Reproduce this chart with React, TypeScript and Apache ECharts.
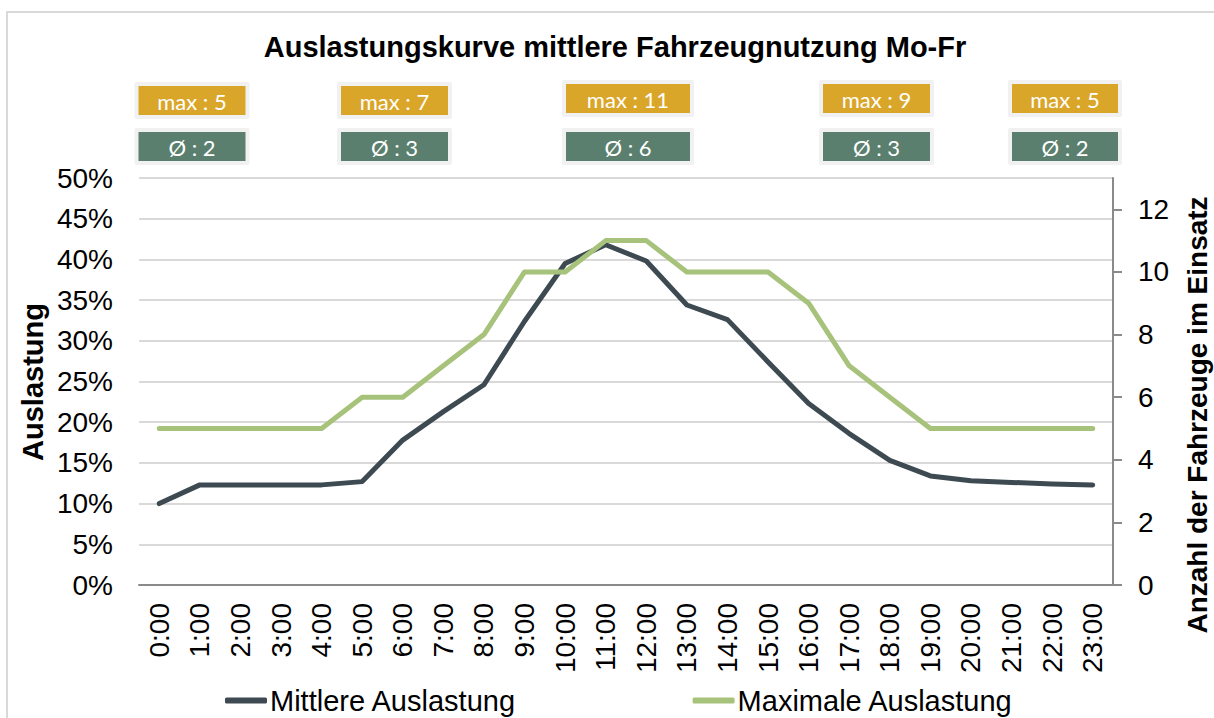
import React, { useEffect, useRef } from "react";
import * as echarts from "echarts";

const hours = [
  "0:00", "1:00", "2:00", "3:00", "4:00", "5:00", "6:00", "7:00",
  "8:00", "9:00", "10:00", "11:00", "12:00", "13:00", "14:00", "15:00",
  "16:00", "17:00", "18:00", "19:00", "20:00", "21:00", "22:00", "23:00",
];

// Mittlere Auslastung in %
const meanLoad = [
  10.0, 12.3, 12.3, 12.3, 12.3, 12.7, 17.8, 21.3,
  24.6, 32.4, 39.5, 41.8, 39.8, 34.4, 32.6, 27.4,
  22.3, 18.6, 15.3, 13.4, 12.8, 12.6, 12.4, 12.3,
];

// Maximale Auslastung (Anzahl Fahrzeuge)
const maxVehicles = [
  5, 5, 5, 5, 5, 6, 6, 7,
  8, 10, 10, 11, 11, 10, 10, 10,
  9, 7, 6, 5, 5, 5, 5, 5,
];

const leftTicks = [0, 5, 10, 15, 20, 25, 30, 35, 40, 45, 50];
const rightTicks = [0, 2, 4, 6, 8, 10, 12];

const boxMax = [5, 7, 11, 9, 5];
const boxAvg = [2, 3, 6, 3, 2];

// layout of the annotation boxes (pixels)
const boxCenters = [192, 394.5, 628, 876.5, 1065];
const boxWidths = [107, 107, 124, 107, 106];
const boxMaxTop = [86, 86, 84, 84, 84];
const boxAvgTop = [132, 132, 132, 132, 132];

const FONT = "'Liberation Sans', Arial, sans-serif";
const BOX_FONT = "Lato, 'Open Sans', sans-serif";
const DARK = "#3E4A51";
const GREEN = "#A7C27B";
const YELLOW = "#DAA62A";
const TEAL = "#5A7F6E";

function makeBoxes() {
  const els: any[] = [];
  boxMax.forEach((v, i) => {
    const w = boxWidths[i];
    const x = boxCenters[i] - w / 2;
    const h = 29;
    const rows = [
      { top: boxMaxTop[i], fill: YELLOW, text: "max : " + v },
      { top: boxAvgTop[i], fill: TEAL, text: "Ø : " + boxAvg[i] },
    ];
    rows.forEach((r) => {
      els.push({
        type: "rect",
        shape: { x: x - 4, y: r.top - 4, width: w + 8, height: h + 8, r: 2 },
        style: { fill: "#f1f1f1" },
        silent: true,
      });
      els.push({
        type: "rect",
        shape: { x, y: r.top, width: w, height: h },
        style: { fill: r.fill },
        silent: true,
      });
      els.push({
        type: "text",
        x: x + w / 2,
        y: r.top + h / 2 + 1,
        style: {
          text: r.text,
          fill: "#ffffff",
          font: `22px ${BOX_FONT}`,
          textAlign: "center",
          textVerticalAlign: "middle",
        },
        silent: true,
      });
    });
  });
  return els;
}

export default function App() {
  const ref = useRef<HTMLDivElement>(null);

  useEffect(() => {
    if (!ref.current) return;
    const chart = echarts.init(ref.current, null, { renderer: "svg" });
    chart.setOption({
      animation: false,
      backgroundColor: "#ffffff",
      title: {
        text: "Auslastungskurve mittlere Fahrzeugnutzung Mo-Fr",
        left: 610,
        top: 27,
        textAlign: "center",
        textStyle: { fontFamily: FONT, fontSize: 29, fontWeight: "bold", color: "#000" },
      },
      legend: {
        data: ["Mittlere Auslastung", "Maximale Auslastung"],
        left: 220,
        top: 681,
        itemGap: 176,
        itemWidth: 42,
        itemHeight: 6,
        icon: "roundRect",
        textStyle: { fontFamily: FONT, fontSize: 29, color: "#000", padding: [0, 0, 0, -2] },
      },
      grid: { left: 139, right: 101, top: 178, bottom: 133 },
      xAxis: {
        type: "category",
        data: hours,
        boundaryGap: true,
        axisLine: { show: true, lineStyle: { color: "#8a8a8a", width: 2 } },
        axisTick: { show: false },
        axisLabel: {
          rotate: 90,
          margin: 18,
          interval: 0,
          fontFamily: FONT,
          fontSize: 28,
          color: "#000",
        },
      },
      yAxis: [
        {
          type: "value",
          min: 0,
          max: 50,
          interval: 5,
          axisLine: { show: false },
          axisTick: { show: false },
          axisLabel: {
            customValues: leftTicks,
            formatter: "{value}%",
            margin: 26,
            fontFamily: FONT,
            fontSize: 28,
            color: "#000",
          },
          splitLine: { show: true, lineStyle: { color: "#d9d9d9", width: 2 } },
        },
        {
          type: "value",
          position: "right",
          min: 0,
          max: 13,
          interval: 2,
          axisLine: { show: true, lineStyle: { color: "#8a8a8a", width: 2 } },
          axisTick: {
            show: true,
            length: 9,
            customValues: rightTicks,
            lineStyle: { color: "#8a8a8a", width: 2 },
          },
          axisLabel: {
            customValues: rightTicks,
            margin: 25,
            fontFamily: FONT,
            fontSize: 28,
            color: "#000",
          },
          splitLine: { show: false },
        },
      ],
      series: [
        {
          name: "Mittlere Auslastung",
          type: "line",
          yAxisIndex: 0,
          data: meanLoad,
          symbol: "none",
          color: DARK,
          lineStyle: { color: DARK, width: 5, cap: "round", join: "round" },
        },
        {
          name: "Maximale Auslastung",
          type: "line",
          yAxisIndex: 1,
          data: maxVehicles,
          symbol: "none",
          color: GREEN,
          lineStyle: { color: GREEN, width: 5, cap: "round", join: "round" },
        },
      ],
      graphic: [
        {
          type: "rect",
          shape: { x: 7, y: 12, width: 1220, height: 720 },
          style: { fill: "none", stroke: "#d9d9d9", lineWidth: 2 },
          silent: true,
          z: -1,
        },
        {
          type: "text",
          x: 33,
          y: 382,
          rotation: Math.PI / 2,
          style: {
            text: "Auslastung",
            font: `bold 29px ${FONT}`,
            fill: "#000",
            textAlign: "center",
            textVerticalAlign: "middle",
          },
          silent: true,
        },
        {
          type: "text",
          x: 1197,
          y: 415,
          rotation: Math.PI / 2,
          style: {
            text: "Anzahl der Fahrzeuge im Einsatz",
            font: `bold 28px ${FONT}`,
            fill: "#000",
            textAlign: "center",
            textVerticalAlign: "middle",
          },
          silent: true,
        },
        ...makeBoxes(),
      ],
    });
    return () => chart.dispose();
  }, []);

  return (
    <div
      ref={ref}
      style={{ position: "absolute", left: 0, top: 0, width: 1214, height: 718 }}
    />
  );
}
